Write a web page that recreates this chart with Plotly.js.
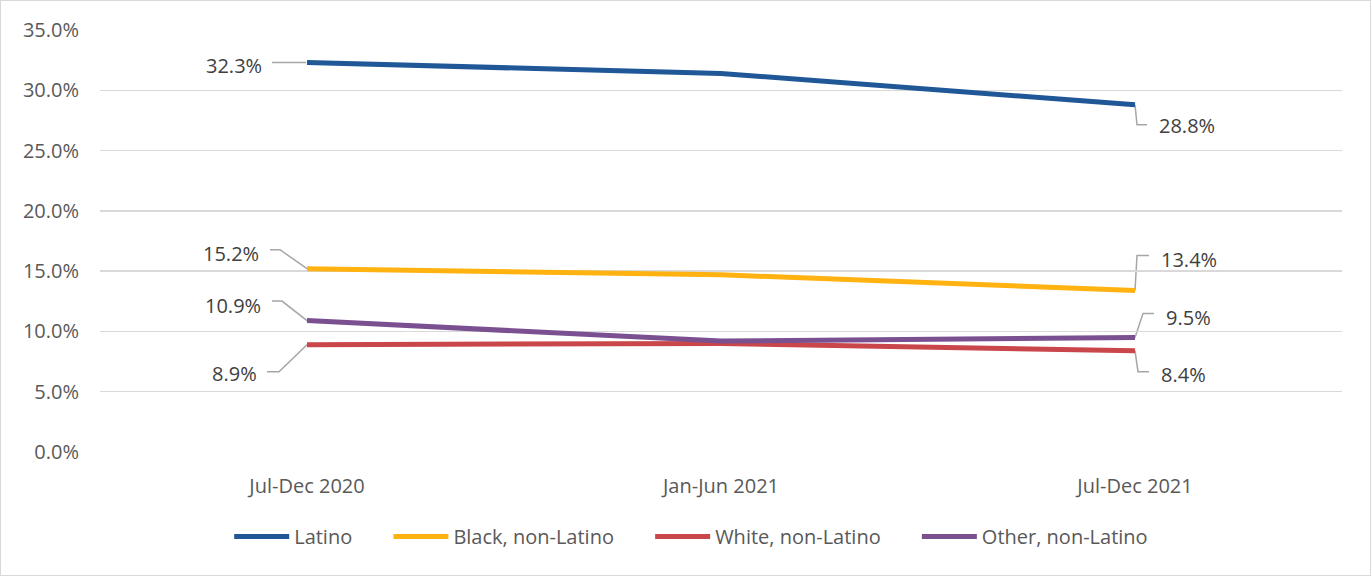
<!DOCTYPE html>
<html>
<head>
<meta charset="utf-8">
<script src="https://cdn.plot.ly/plotly-3.0.1.min.js"></script>
<style>
  html, body { margin: 0; padding: 0; background: #fff; }
  #chart { width: 1371px; height: 576px; box-sizing: border-box; border: 1px solid #d9d9d9; }
</style>
</head>
<body>
<div id="chart"></div>
<script>
// ---- data ----
const periods = ["Jul-Dec 2020", "Jan-Jun 2021", "Jul-Dec 2021"];
const seriesNames = ["Latino", "Black, non-Latino", "White, non-Latino", "Other, non-Latino"];
const latino = [32.3, 31.4, 28.8];
const black = [15.2, 14.7, 13.4];
const white = [8.9, 9.0, 8.4];
const other = [10.9, 9.2, 9.5];
const yTickVals = [0, 5, 10, 15, 20, 25, 30, 35];
const yTickText = ["0.0%", "5.0%", "10.0%", "15.0%", "20.0%", "25.0%", "30.0%", "35.0%"];

// ---- styles ----
const colors = ["#1F5797", "#FFB210", "#C9474A", "#7A5090"];
const allSeries = [latino, black, white, other];
const FONT = "'Open Sans', 'Noto Sans', sans-serif";
const LEGEND_PAD = "\u00a0\u00a0\u00a0\u00a0\u00a0\u00a0";

// label placement (pixel offsets from point, up positive) for first and last points
const labelStyle = [
  { first: { dx: -43, dy: -3, leader: [[-1,0],[-35,0]] },
    last:  { dx: 22, dy: -21, leader: [[0,0],[2,-20],[12,-20]] } },
  { first: { dx: -46, dy: 15, leader: [[0,0],[-27,19],[-37,19]] },
    last:  { dx: 24, dy: 31, leader: [[0,0],[2,35],[14,35]] } },
  { first: { dx: -48, dy: -29, leader: [[0,0],[-28,-27],[-40,-27]] },
    last:  { dx: 24, dy: -24, leader: [[0,0],[3,-21],[14,-21]] } },
  { first: { dx: -44, dy: 15.5, leader: [[0,0],[-25,19.5],[-35,19.5]] },
    last:  { dx: 29, dy: 20, leader: [[0,0],[8,24],[19,24]] } }
];

const traces = allSeries.map((vals, i) => ({
  type: "scatter",
  mode: "lines",
  name: seriesNames[i] + (i < allSeries.length - 1 ? LEGEND_PAD : ""),
  x: periods,
  y: vals,
  line: { color: colors[i], width: 5 },
  hoverinfo: "skip"
}));

const annotations = [];
const shapes = [];
allSeries.forEach((vals, i) => {
  [["first", 0], ["last", vals.length - 1]].forEach(([key, idx]) => {
    const st = labelStyle[i][key];
    annotations.push({
      x: idx, y: vals[idx], xref: "x", yref: "y",
      text: vals[idx].toFixed(1) + "%",
      showarrow: false,
      xanchor: key === "first" ? "right" : "left",
      yanchor: "middle",
      xshift: st.dx, yshift: st.dy,
      font: { family: FONT, size: 20, color: "#404040" }
    });
    const path = st.leader.map((p, k) => (k === 0 ? "M" : "L") + p[0] + "," + p[1]).join(" ");
    shapes.push({
      type: "path",
      xref: "x", yref: "y",
      xsizemode: "pixel", ysizemode: "pixel",
      xanchor: idx, yanchor: vals[idx],
      path: path,
      line: { color: "#a6a6a6", width: 1.5 },
      layer: "below"
    });
  });
});

const layout = {
  width: 1369, height: 574,
  margin: { l: 99, r: 28, t: 29, b: 123 },
  paper_bgcolor: "#fff", plot_bgcolor: "#fff",
  showlegend: true,
  legend: {
    orientation: "h", x: 0.476, xanchor: "center", y: -0.2, yanchor: "middle",
    font: { family: FONT, size: 20, color: "#595959" },
    itemwidth: 55,
    traceorder: "normal"
  },
  xaxis: {
    type: "category",
    range: [-0.5, 2.5],
    showgrid: false, zeroline: false,
    showline: false,
    ticks: "",
    ticklabelstandoff: 20,
    tickfont: { family: FONT, size: 20, color: "#595959" }
  },
  yaxis: {
    range: [0, 35],
    tickvals: yTickVals, ticktext: yTickText,
    showgrid: true, gridcolor: "#d9d9d9", gridwidth: 1.5,
    zeroline: false, showline: false, ticks: "",
    ticklabelstandoff: 20,
    tickfont: { family: FONT, size: 20, color: "#595959" }
  },
  annotations: annotations,
  shapes: shapes,
  hovermode: false
};

Plotly.newPlot("chart", traces, layout, { displayModeBar: false, staticPlot: true });
</script>
</body>
</html>
